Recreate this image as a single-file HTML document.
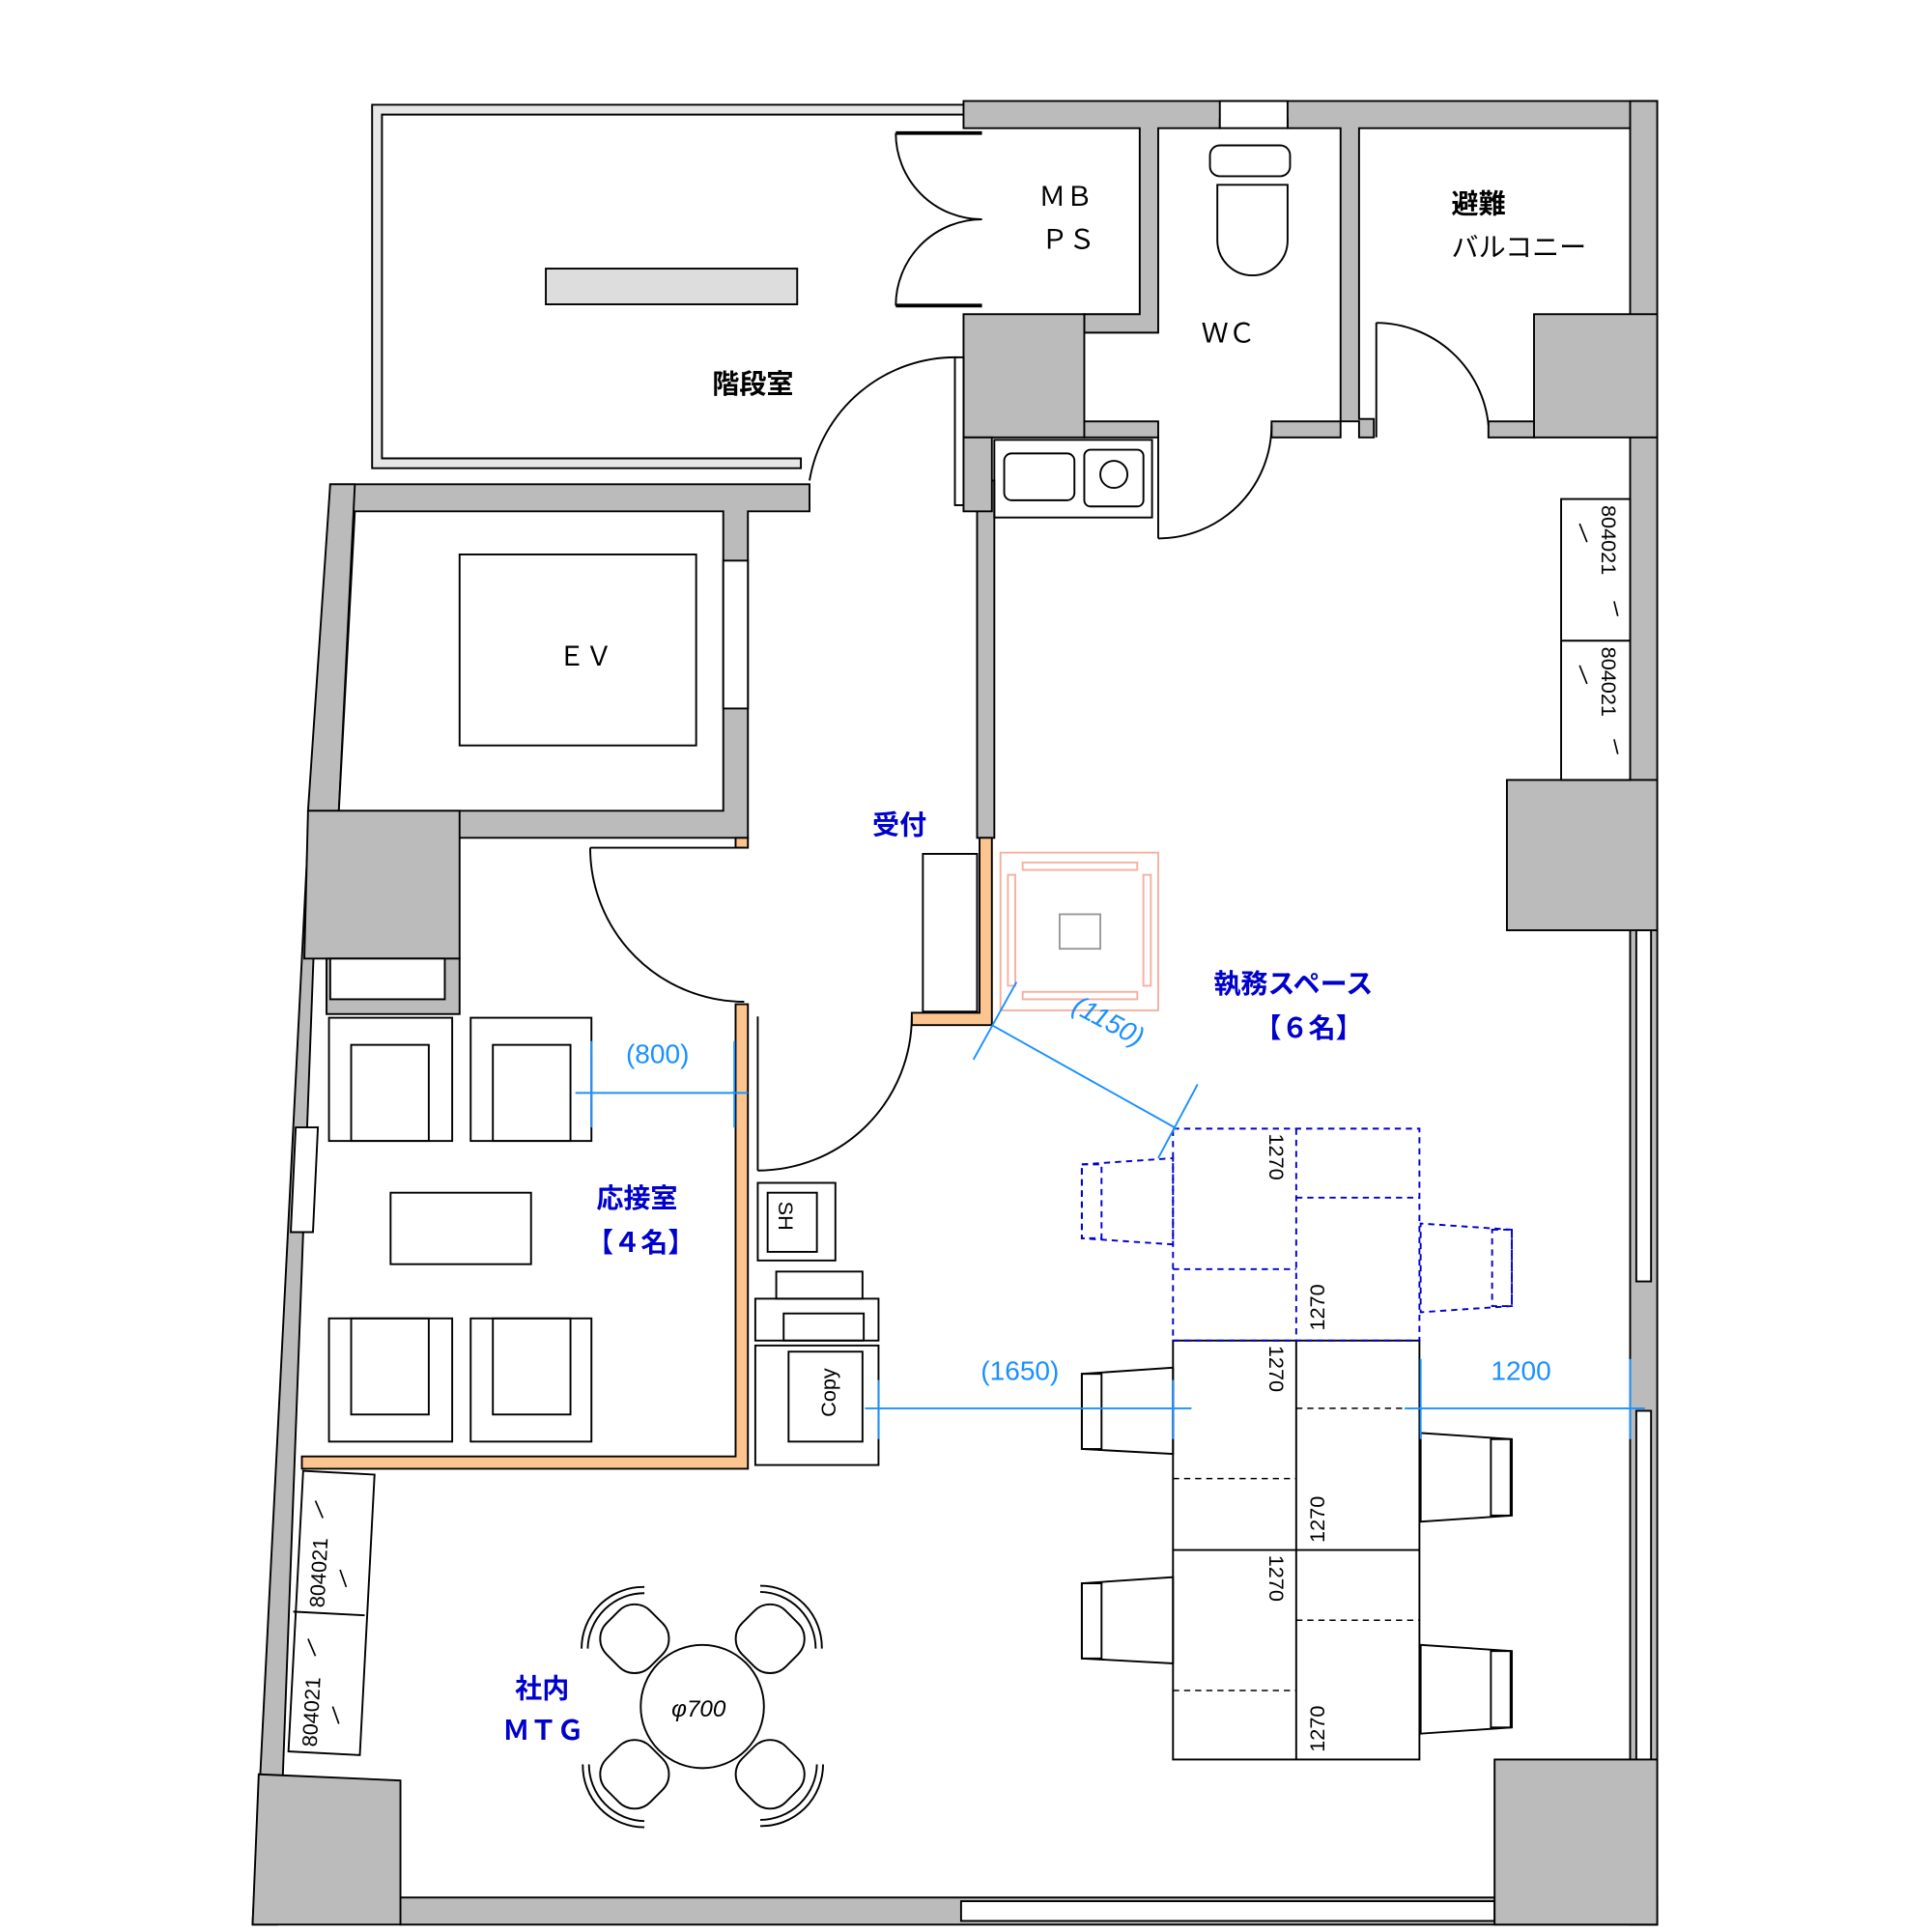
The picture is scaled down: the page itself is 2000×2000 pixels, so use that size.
<!DOCTYPE html>
<html><head><meta charset="utf-8"><style>html,body{margin:0;padding:0;background:#fff}svg{display:block}text{font-family:"Liberation Sans","Noto Sans CJK JP",sans-serif}</style></head><body>
<svg width="2000" height="2000" viewBox="0 0 1568 1568" xmlns="http://www.w3.org/2000/svg">
<g stroke="#000" stroke-width="1.5" fill="#bbb">
<!-- stair room -->
<path d="M782,85 H302 V380 H650 V372 H310 V93 H782 Z" fill="#e6e6e6"/>
<rect x="443" y="218" width="204" height="29" fill="#ddd"/>
<!-- top wall -->
<path d="M782,82 H1345 V104 H1103 V340 H1115 V355 H1103 V342 H1088 V104 H1045 V97 H990 V104 H940 V270 H880 V255 H925 V104 H800 V104 H782 Z"/>
<rect x="990" y="82" width="55" height="22" fill="#fff"/>
<rect x="1323" y="82" width="22" height="1480"/>
<rect x="1328" y="755" width="12" height="285" fill="#fff"/>
<rect x="1328" y="1145" width="12" height="285" fill="#fff"/>
<rect x="325" y="1540" width="1020" height="22"/>
<rect x="780" y="1543" width="433" height="16" fill="#fff"/>
<!-- left slanted wall -->
<path d="M268,393 H657 V415 H607 V680 H250 L205,1562 H225 L268,415 Z"/>
<path d="M268,393 L288,393 L275,658 L250,658 Z" />
<path d="M240,915 L258,915 L254,1000 L236,1000 Z" fill="#fff"/>
<!-- EV room -->
<path d="M288,415 H587 V658 H275 Z" fill="#fff"/>
<rect x="587" y="455" width="20" height="120" fill="#fff"/>
<rect x="373" y="450" width="192" height="155" fill="#fff"/>
<!-- columns -->
<rect x="782" y="255" width="98" height="100"/>
<rect x="1245" y="255" width="100" height="100"/>
<rect x="1223" y="633" width="122" height="122"/>
<path d="M250,658 H373 V778 H247 Z"/>
<rect x="265" y="778" width="108" height="45" fill="#bbb"/>
<rect x="268" y="778" width="93" height="33" fill="#fff"/>
<path d="M210,1440 L325,1445 V1562 H205 Z"/>
<rect x="1213" y="1428" width="132" height="134"/>
<!-- WC lower walls -->
<rect x="880" y="342" width="60" height="13"/>
<rect x="1032" y="342" width="56" height="13"/>
<rect x="1208" y="342" width="37" height="13"/>
<!-- corridor wall -->
<rect x="775" y="290" width="7" height="120" fill="#fff"/>
<rect x="793" y="390" width="14" height="290"/>
<rect x="782" y="355" width="23" height="60"/>
<!-- orange walls -->
<g fill="#fcc590" stroke="#000">
<path d="M795,680 H805 V832 H740 V822 H795 Z"/>
<path d="M597,815 H607 V1192 H245 V1182 H597 Z"/>
<rect x="597" y="680" width="10" height="8"/>
</g>
<!-- windows -->
<rect x="1267" y="405" width="56" height="228" fill="#fff"/>
<line x1="1267" y1="520" x2="1323" y2="520"/>
<rect x="240" y="1195" width="58" height="228" fill="#fff" transform="rotate(3 267 1310)"/>
<line x1="238" y1="1308" x2="296" y2="1311"/>
</g>
<g stroke="#000" stroke-width="1.3">
<line x1="1282" y1="425" x2="1288" y2="440"/><line x1="1282" y1="540" x2="1288" y2="555"/>
<line x1="1310" y1="488" x2="1313" y2="500"/><line x1="1310" y1="600" x2="1313" y2="612"/>
<line x1="256" y1="1218" x2="262" y2="1232"/><line x1="276" y1="1274" x2="281" y2="1288"/>
<line x1="250" y1="1330" x2="256" y2="1344"/><line x1="270" y1="1385" x2="275" y2="1399"/>
</g>
<!-- doors -->
<g fill="none" stroke="#000" stroke-width="1.5">
<path d="M727,108 A70,70 0 0 0 797,178"/><line x1="727" y1="108" x2="797" y2="108" stroke-width="3"/>
<path d="M727,248 A70,70 0 0 1 797,178"/><line x1="727" y1="248" x2="797" y2="248" stroke-width="3"/>
<path d="M657,390 A120,120 0 0 1 777,290"/>
<path d="M940,437 A92,92 0 0 0 1032,345"/><line x1="940" y1="437" x2="940" y2="355"/>
<path d="M1117,262 A92,92 0 0 1 1208,345"/><line x1="1117" y1="262" x2="1117" y2="355"/>
<path d="M479,688 A125,125 0 0 0 604,813"/><line x1="479" y1="688" x2="604" y2="688"/>
<path d="M615,950 A125,125 0 0 0 740,825"/><line x1="615" y1="825" x2="615" y2="950"/>
<rect x="982" y="118" width="65" height="25" rx="8"/>
<path d="M988,150 H1045 V195 A28,28 0 0 1 988,195 Z"/>
<rect x="807" y="357" width="128" height="63"/>
<rect x="815" y="368" width="57" height="38" rx="6"/>
<rect x="880" y="365" width="48" height="46" rx="5"/>
<circle cx="904" cy="385" r="11"/>
<rect x="749" y="693" width="44" height="128"/>
<rect x="267" y="826" width="100" height="100"/><rect x="285" y="848" width="63" height="78"/>
<rect x="382" y="826" width="98" height="100"/><rect x="400" y="848" width="63" height="78"/>
<rect x="317" y="968" width="114" height="58"/>
<rect x="267" y="1070" width="100" height="100"/><rect x="285" y="1070" width="63" height="78"/>
<rect x="382" y="1070" width="98" height="100"/><rect x="400" y="1070" width="63" height="78"/>
<rect x="615" y="960" width="63" height="63"/><rect x="623" y="968" width="40" height="48"/>
<rect x="630" y="1032" width="70" height="22"/>
<rect x="613" y="1054" width="100" height="34"/><rect x="636" y="1066" width="65" height="22"/>
<rect x="613" y="1092" width="100" height="97"/><rect x="640" y="1097" width="60" height="73"/>
<rect x="952" y="1088" width="200" height="340"/>
<line x1="1052" y1="1088" x2="1052" y2="1428"/><line x1="952" y1="1258" x2="1152" y2="1258"/>
<path d="M878,1115 L952,1110 V1180 L878,1176 Z"/><rect x="878" y="1115" width="16" height="61"/>
<path d="M878,1285 L952,1280 V1350 L878,1346 Z"/><rect x="878" y="1285" width="16" height="61"/>
<path d="M1227,1168 L1153,1163 V1235 L1227,1230 Z"/><rect x="1210" y="1168" width="16" height="62"/>
<path d="M1227,1340 L1153,1335 V1407 L1227,1402 Z"/><rect x="1210" y="1340" width="16" height="62"/>
<circle cx="570" cy="1385" r="50"/>
<g id="c"><rect x="490" y="1305" width="50" height="50" rx="18" transform="rotate(45 515 1330)"/><path d="M472,1338 A50,50 0 0 1 523,1288"/><path d="M477,1338 A46,46 0 0 1 523,1293"/></g>
<use href="#c" transform="rotate(90 570 1385)"/><use href="#c" transform="rotate(-90 570 1385)"/><use href="#c" transform="rotate(180 570 1385)"/>
</g>
<g fill="none" stroke="#0000cc" stroke-width="1.5" stroke-dasharray="5,4">
<rect x="952" y="916" width="200" height="172"/><line x1="1052" y1="916" x2="1052" y2="1088"/>
<line x1="952" y1="1030" x2="1052" y2="1030"/><line x1="1052" y1="972" x2="1152" y2="972"/>
<path d="M878,945 L952,940 V1010 L878,1005 Z"/><rect x="878" y="945" width="16" height="60"/>
<path d="M1227,998 L1153,993 V1065 L1227,1060 Z"/><rect x="1211" y="998" width="16" height="62"/>
</g>
<g fill="none" stroke="#000" stroke-width="1.2" stroke-dasharray="5,4">
<line x1="1052" y1="1143" x2="1152" y2="1143"/><line x1="952" y1="1200" x2="1052" y2="1200"/>
<line x1="1052" y1="1315" x2="1152" y2="1315"/><line x1="952" y1="1372" x2="1052" y2="1372"/>
</g>
<g fill="none" stroke="#f5b0a0" stroke-width="1.5"><rect x="812" y="692" width="128" height="128"/><rect x="860" y="742" width="33" height="28" stroke="#999"/><rect x="830" y="700" width="93" height="6"/><rect x="830" y="805" width="93" height="6"/><rect x="818" y="710" width="6" height="90"/><rect x="928" y="710" width="6" height="90"/></g>
<g stroke="#1a90ff" stroke-width="1.5" fill="none">
<line x1="467" y1="887" x2="607" y2="887"/><line x1="480" y1="845" x2="480" y2="915"/><line x1="596" y1="845" x2="596" y2="915"/>
<line x1="805" y1="832" x2="955" y2="916"/><line x1="825" y1="797" x2="790" y2="860"/><line x1="972" y1="880" x2="940" y2="940"/>
<line x1="702" y1="1143" x2="967" y2="1143"/><line x1="713" y1="1120" x2="713" y2="1168"/><line x1="952" y1="1120" x2="952" y2="1168"/>
<line x1="1140" y1="1143" x2="1335" y2="1143"/><line x1="1153" y1="1103" x2="1153" y2="1168"/><line x1="1323" y1="1103" x2="1323" y2="1168"/>
</g>
<g font-size="22" fill="#1a90ff"><text x="508" y="863">(800)</text><text x="796" y="1120">(1650)</text><text x="1210" y="1120">1200</text><text x="860" y="836" transform="rotate(28 895 846)" font-style="italic">(1150)</text></g>
<g font-size="22" fill="#0000cc" font-weight="bold"><text x="708" y="677">受付</text><text x="985" y="806">執務スペース</text><text x="1018" y="842">【６名】</text><text x="484" y="980">応接室</text><text x="476" y="1016">【４名】</text><text x="418" y="1378">社内</text><text x="408" y="1412">ＭＴＧ</text></g>
<g font-size="22" fill="#000"><text x="843" y="167">ＭＢ</text><text x="845" y="202">ＰＳ</text><text x="975" y="278">ＷＣ</text><text x="453" y="540">ＥＶ</text><text x="578" y="319" font-weight="bold">階段室</text><text x="1178" y="173" font-weight="bold">避難</text><text x="1178" y="208">バルコニー</text><text x="545" y="1393" font-size="19" font-style="italic">φ700</text></g>
<g font-size="17" fill="#000">
<text transform="translate(1030,920) rotate(90)">1270</text><text transform="translate(1075,1080) rotate(-90)">1270</text>
<text transform="translate(1030,1092) rotate(90)">1270</text><text transform="translate(1075,1252) rotate(-90)">1270</text>
<text transform="translate(1030,1262) rotate(90)">1270</text><text transform="translate(1075,1422) rotate(-90)">1270</text>
<text transform="translate(1300,410) rotate(90)">804021</text><text transform="translate(1300,525) rotate(90)">804021</text>
<text transform="translate(263,1305) rotate(-87)">804021</text><text transform="translate(257,1418) rotate(-87)">804021</text>
<text transform="translate(632,975) rotate(90)">SH</text><text transform="translate(678,1150) rotate(-90)">Copy</text>
</g>
</svg>
</body></html>
